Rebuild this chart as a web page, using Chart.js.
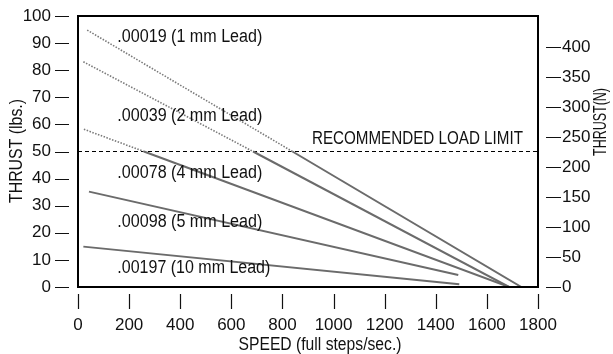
<!DOCTYPE html>
<html><head><meta charset="utf-8">
<script src="https://cdn.jsdelivr.net/npm/chart.js@4/dist/chart.umd.min.js"></script>
<style>html,body{margin:0;padding:0;background:#fff;}</style>
</head><body>
<canvas id="c" width="613" height="354" style="width:613px;height:354px;display:block"></canvas>
<script>
// ---- data ----
const speedTicks = [0, 200, 400, 600, 800, 1000, 1200, 1400, 1600, 1800];
const lbsTicks = [0, 10, 20, 30, 40, 50, 60, 70, 80, 90, 100];
const newtonTicks = [0, 50, 100, 150, 200, 250, 300, 350, 400];
const leadLabels = ['.00019 (1 mm Lead)', '.00039 (2 mm Lead)', '.00078 (4 mm Lead)', '.00098 (5 mm Lead)', '.00197 (10 mm Lead)'];
const lead1mmSpeed = [36, 839, 1735];
const lead1mmThrust = [94.8, 50, 0];
const lead2mmSpeed = [21, 685, 1687];
const lead2mmThrust = [83.1, 50, 0];
const lead4mmSpeed = [23, 258, 1687];
const lead4mmThrust = [58.2, 50, 0];
const lead5mmSpeed = [43, 1488];
const lead5mmThrust = [35.2, 4.4];
const lead10mmSpeed = [21, 1492];
const lead10mmThrust = [14.9, 1.0];
const loadLimitSpeed = [0, 1800];
const loadLimitThrust = [50, 50];
const loadLimitLabel = 'RECOMMENDED LOAD LIMIT';
// label anchor points in data units (speed, thrust)
const labelSpeed = [152, 152, 152, 152, 152];
const labelThrust = [92.3, 63.1, 42.2, 24.1, 7.0];

const FONT = '"Liberation Sans", Arial, sans-serif';
const FS = 17;
const FS_TEXT = 18;

function pts(xs, ys) { return xs.map((x, i) => ({x: x, y: ys[i]})); }
const LINE = '#6b6b6b';
function above(ctx) { return ctx.p0.parsed.y >= 50 && ctx.p1.parsed.y >= 50; }
function leadDataset(xs, ys) {
  return {
    data: pts(xs, ys), showLine: true, pointRadius: 0, borderColor: LINE, borderWidth: 2,
    segment: {
      borderDash: ctx => above(ctx) ? [1.5, 1.5] : undefined,
      borderWidth: ctx => above(ctx) ? 1.6 : 2,
      borderColor: ctx => above(ctx) ? '#7a7a7a' : LINE
    }
  };
}

function squeezedText(c, text, x, y, width, rot) {
  const w = c.measureText(text).width;
  c.save();
  c.translate(x, y);
  if (rot) c.rotate(rot);
  c.scale(width / w, 1);
  c.fillText(text, 0, 0);
  c.restore();
}

const decor = {
  id: 'decor',
  afterDraw(chart) {
    const c = chart.ctx, a = chart.chartArea;
    const x = chart.scales.x, y = chart.scales.y, y2 = chart.scales.y2;
    c.save();
    // frame
    c.strokeStyle = '#000'; c.lineWidth = 2;
    c.strokeRect(a.left, a.top, a.right - a.left, a.bottom - a.top);
    // tick marks (detached from frame)
    c.lineWidth = 1.2; c.strokeStyle = '#111';
    c.beginPath();
    lbsTicks.forEach(v => { const p = Math.round(y.getPixelForValue(v)) + 0.5; c.moveTo(a.left - 23, p); c.lineTo(a.left - 9, p); });
    newtonTicks.forEach(v => { const p = Math.round(y2.getPixelForValue(v)) + 0.5; c.moveTo(a.right + 8, p); c.lineTo(a.right + 23, p); });
    speedTicks.forEach(v => { const p = Math.round(x.getPixelForValue(v)) + 0.5; c.moveTo(p, a.bottom + 7); c.lineTo(p, a.bottom + 22); });
    c.stroke();
    // text
    c.fillStyle = '#111';
    c.font = FS_TEXT + 'px ' + FONT;
    c.textBaseline = 'middle';
    c.textAlign = 'left';
    leadLabels.forEach((t, i) => squeezedText(c, t, x.getPixelForValue(labelSpeed[i]) + 0.5, y.getPixelForValue(labelThrust[i]), i === 4 ? 153 : 145, 0));
    c.textAlign = 'right';
    squeezedText(c, loadLimitLabel, x.getPixelForValue(1741), y.getPixelForValue(54.6), 211, 0);
    // axis titles
    c.textAlign = 'center';
    squeezedText(c, 'SPEED (full steps/sec.)', 320, 345, 163, 0);
    squeezedText(c, 'THRUST (lbs.)', 17, 151, 104, -Math.PI / 2);
    squeezedText(c, 'THRUST(N)', 601, 122, 68, -Math.PI / 2);
    c.restore();
  }
};

const tickFont = {family: FONT, size: FS};
function noPad(s) { s.paddingTop = 0; s.paddingBottom = 0; s.paddingLeft = 0; s.paddingRight = 0; }
new Chart(document.getElementById('c'), {
  type: 'scatter',
  data: {
    datasets: [
      leadDataset(lead1mmSpeed, lead1mmThrust),
      leadDataset(lead2mmSpeed, lead2mmThrust),
      leadDataset(lead4mmSpeed, lead4mmThrust),
      leadDataset(lead5mmSpeed, lead5mmThrust),
      leadDataset(lead10mmSpeed, lead10mmThrust),
      {data: pts(loadLimitSpeed, loadLimitThrust), showLine: true, pointRadius: 0, borderColor: '#000', borderWidth: 1, borderDash: [4, 3]}
    ]
  },
  options: {
    responsive: false, devicePixelRatio: 1, animation: false,
    layout: {padding: {top: 16, left: 0, right: 0, bottom: 0}},
    plugins: {legend: {display: false}, tooltip: {enabled: false}},
    scales: {
      x: {
        type: 'linear', min: 0, max: 1800,
        afterBuildTicks: s => { s.ticks = speedTicks.map(v => ({value: v})); },
        afterFit: s => { s.height = 67; noPad(s); },
        grid: {display: false, drawTicks: false}, border: {display: false},
        ticks: {font: tickFont, color: '#111', padding: 28, maxRotation: 0, autoSkip: false, callback: v => String(v)}
      },
      y: {
        position: 'left', min: 0, max: 100,
        afterBuildTicks: s => { s.ticks = lbsTicks.map(v => ({value: v})); },
        afterFit: s => { s.width = 78; noPad(s); },
        grid: {display: false, drawTicks: false}, border: {display: false},
        ticks: {font: tickFont, color: '#111', padding: 27, autoSkip: false, callback: v => String(v)}
      },
      y2: {
        position: 'right', min: 0, max: 452,
        afterBuildTicks: s => { s.ticks = newtonTicks.map(v => ({value: v})); },
        afterFit: s => { s.width = 75; noPad(s); },
        grid: {display: false, drawTicks: false}, border: {display: false},
        ticks: {font: tickFont, color: '#111', padding: 24, autoSkip: false, callback: v => String(v)}
      }
    }
  },
  plugins: [decor]
});
</script>
</body></html>
